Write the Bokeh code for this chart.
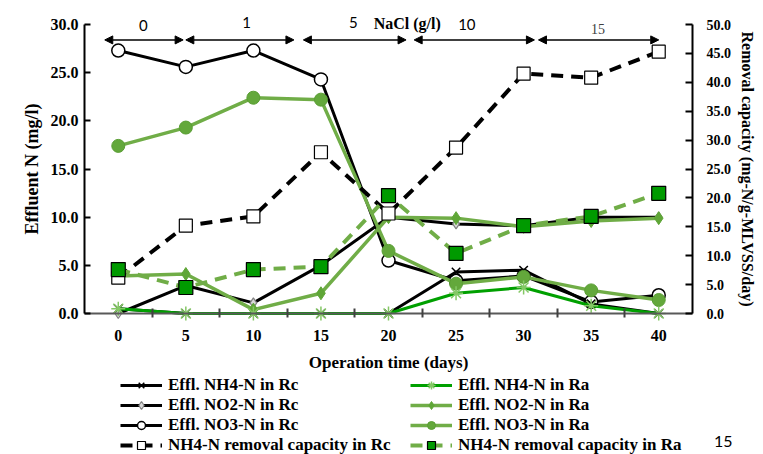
from bokeh.plotting import figure
from bokeh.models import (Range1d, LinearAxis, FixedTicker, PrintfTickFormatter,
                          Legend, LegendItem, Arrow, NormalHead, Label)
from bokeh.embed import file_html
from bokeh.resources import INLINE

# ---------------- data ----------------
days = [0, 5, 10, 15, 20, 25, 30, 35, 40]
nh4_rc = [0.5, 0.0, 0.0, 0.0, 0.0, 4.3, 4.5, 1.0, 0.0]
no2_rc = [0.0, 2.9, 1.1, 5.0, 10.0, 9.3, 9.1, 10.0, 10.0]
no3_rc = [27.3, 25.6, 27.3, 24.3, 5.5, 3.4, 3.9, 1.2, 1.9]
nh4_ra = [0.5, 0.0, 0.0, 0.0, 0.0, 2.1, 2.7, 0.8, 0.0]
no2_ra = [3.9, 4.1, 0.4, 2.1, 10.0, 9.9, 9.0, 9.6, 9.9]
no3_ra = [17.4, 19.3, 22.4, 22.2, 6.5, 3.1, 3.8, 2.4, 1.4]
cap_rc = [6.2, 15.2, 16.8, 27.9, 17.3, 28.7, 41.5, 40.8, 45.3]
cap_ra = [7.6, 4.5, 7.6, 8.1, 20.4, 10.4, 15.2, 16.8, 20.8]

left_ticks = [0, 5, 10, 15, 20, 25, 30]
right_ticks = [0, 5, 10, 15, 20, 25, 30, 35, 40, 45, 50]

nacl_levels = ["0", "1", "5", "10", "15"]
phase_start = [-1.0, 5.0, 13.7, 21.9, 31.1]
phase_end = [4.8, 13.0, 21.3, 30.8, 40.0]

# ---------------- geometry / styles ----------------
W, H = 763, 454
AX_L, AX_R, AX_T, AX_B = 84, 692, 24, 313   # plot-area box in page pixels
X_LO, X_HI = -2.5, 42.5
L_HI, R_HI = 30.0, 50.0
px_x = (AX_R - AX_L) / (X_HI - X_LO)
px_l = (AX_B - AX_T) / L_HI
px_r = (AX_B - AX_T) / R_HI

BLACK = "#000000"
G_DARK = "#00A000"
G_LIGHT = "#70AD47"
G_SQ = "#009A00"
SERIF = "Liberation Serif"

p = figure(width=W, height=H,
           x_range=Range1d(X_LO - AX_L / px_x, X_LO + (W - AX_L) / px_x),
           y_range=Range1d(-(H - AX_B) / px_l, AX_B / px_l),
           output_backend="svg", toolbar_location=None,
           min_border_left=0, min_border_right=0, min_border_top=0, min_border_bottom=0,
           x_axis_type=None, y_axis_type=None)
p.extra_y_ranges = {"cap": Range1d(-(H - AX_B) / px_r, AX_B / px_r)}
p.outline_line_color = None
p.background_fill_color = "white"
p.border_fill_color = "white"

# x axis (drawn at y = 0)
xa = LinearAxis(fixed_location=0, bounds=(X_LO, X_HI),
                ticker=FixedTicker(ticks=days, minor_ticks=[d + 2.5 for d in days[:-1]]))
xa.major_tick_in = 0
xa.major_tick_out = 0
xa.minor_tick_in = 5
xa.minor_tick_out = 4
xa.minor_tick_line_color = "#404040"
xa.minor_tick_line_width = 2
xa.axis_line_color = "#595959"
xa.axis_line_width = 2
xa.major_label_text_font = SERIF
xa.major_label_text_font_style = "bold"
xa.major_label_text_font_size = "16px"
xa.major_label_text_color = BLACK
xa.major_label_standoff = 12
xa.axis_label = "Operation time (days)"
xa.axis_label_text_font = SERIF
xa.axis_label_text_font_style = "bold"
xa.axis_label_text_font_size = "17px"
xa.axis_label_text_color = BLACK
xa.axis_label_standoff = 9
p.add_layout(xa, "below")

# left y axis
ya = LinearAxis(fixed_location=X_LO, bounds=(0, L_HI), ticker=FixedTicker(ticks=left_ticks),
                formatter=PrintfTickFormatter(format="%.1f"))
ya.major_tick_in = 6
ya.major_tick_out = 0
ya.minor_tick_in = 0
ya.minor_tick_out = 0
ya.major_tick_line_width = 2
ya.axis_line_width = 2
ya.major_label_text_font = SERIF
ya.major_label_text_font_style = "bold"
ya.major_label_text_font_size = "16px"
ya.major_label_text_color = BLACK
ya.major_label_standoff = 6
ya.axis_label = "Effluent N (mg/l)"
ya.axis_label_text_font = SERIF
ya.axis_label_text_font_style = "bold"
ya.axis_label_text_font_size = "18px"
ya.axis_label_text_color = BLACK
ya.axis_label_standoff = 6
p.add_layout(ya, "left")

# right y axis
ra = LinearAxis(y_range_name="cap", fixed_location=X_HI, bounds=(0, R_HI),
                ticker=FixedTicker(ticks=right_ticks),
                formatter=PrintfTickFormatter(format="%.1f"))
ra.major_tick_in = 7
ra.major_tick_out = 0
ra.minor_tick_in = 0
ra.minor_tick_out = 0
ra.major_tick_line_width = 2
ra.axis_line_width = 2
ra.major_label_text_font = SERIF
ra.major_label_text_font_style = "bold"
ra.major_label_text_font_size = "14px"
ra.major_label_text_color = BLACK
ra.major_label_standoff = 14
ra.axis_label = "Removal capacity (mg-N/g-MLVSS/day)"
ra.axis_label_text_font = SERIF
ra.axis_label_text_font_style = "bold"
ra.axis_label_text_font_size = "16px"
ra.axis_label_text_color = BLACK
ra.axis_label_standoff = 5
p.add_layout(ra, "right")

# ---------------- series ----------------
items_rc = {}
items_ra = {}

l = p.line(days, no3_rc, line_color=BLACK, line_width=3)
s = p.scatter(days, no3_rc, marker="circle", size=13, fill_color="white", line_color=BLACK, line_width=1.5)
items_rc["no3"] = [l, s]

l = p.line(days, no2_rc, line_color=BLACK, line_width=3)
s = p.scatter(days, no2_rc, marker="diamond", size=10, fill_color="#D9D9D9", line_color="#808080", line_width=1.2)
items_rc["no2"] = [l, s]

l = p.line(days, nh4_rc, line_color=BLACK, line_width=3)
s = p.scatter(days, nh4_rc, marker="x", size=12, line_color=BLACK, line_width=1.5)
items_rc["nh4"] = [l, s]

l = p.line(days, no3_ra, line_color=G_LIGHT, line_width=3.5)
s = p.scatter(days, no3_ra, marker="circle", size=13, fill_color="#63A83B", line_color="#5A9E34", line_width=1)
items_ra["no3"] = [l, s]

l = p.line(days, no2_ra, line_color=G_LIGHT, line_width=3.5)
s = p.scatter(days, no2_ra, marker="diamond", size=13, fill_color="#5FA637", line_color="#5FA637", line_width=1)
items_ra["no2"] = [l, s]

l = p.line(days, nh4_ra, line_color=G_DARK, line_width=3)
s = p.scatter(days, nh4_ra, marker="asterisk", size=14, line_color="#84C865", line_width=1.5)
items_ra["nh4"] = [l, s]

l = p.line(days, cap_rc, line_color=BLACK, line_width=4, line_dash="12 8", y_range_name="cap")
s = p.scatter(days, cap_rc, marker="square", size=13, fill_color="white", line_color=BLACK, line_width=1.2, y_range_name="cap")
items_rc["cap"] = [l, s]

l = p.line(days, cap_ra, line_color=G_LIGHT, line_width=4, line_dash="12 8", y_range_name="cap")
s = p.scatter(days, cap_ra, marker="square", size=14, fill_color=G_SQ, line_color=BLACK, line_width=1.2, y_range_name="cap")
items_ra["cap"] = [l, s]

# ---------------- legends ----------------
def make_legend(items, labels, loc):
    lg = Legend(items=[LegendItem(label=lab, renderers=items[k]) for k, lab in labels],
                location=loc, orientation="vertical",
                glyph_width=42, glyph_height=20, label_height=20, spacing=0,
                padding=0, margin=0, label_standoff=6,
                label_text_font=SERIF, label_text_font_style="bold",
                label_text_font_size="17px", label_text_color=BLACK,
                border_line_color=None, background_fill_alpha=0)
    p.add_layout(lg, "center")

make_legend(items_rc, [("nh4", "Effl. NH4-N in Rc"), ("no2", "Effl. NO2-N in Rc"),
                       ("no3", "Effl. NO3-N in Rc"), ("cap", "NH4-N removal capacity in Rc")],
            (120, -1))
make_legend(items_ra, [("nh4", "Effl. NH4-N in Ra"), ("no2", "Effl. NO2-N in Ra"),
                       ("no3", "Effl. NO3-N in Ra"), ("cap", "NH4-N removal capacity in Ra")],
            (410, -1))

# ---------------- NaCl phase annotations ----------------
arrow_y = 28.4
label_x = [1.85, 9.5, 17.4, 25.8, 35.5]
label_y = [29.9, 30.2, 30.2, 30.0, 29.5]
for i, lev in enumerate(nacl_levels):
    p.add_layout(Arrow(x_start=phase_start[i], y_start=arrow_y, x_end=phase_end[i], y_end=arrow_y,
                       line_width=1.5, line_color=BLACK,
                       start=NormalHead(size=8, fill_color=BLACK, line_color=BLACK),
                       end=NormalHead(size=8, fill_color=BLACK, line_color=BLACK)))
    if lev == "15":
        p.add_layout(Label(x=label_x[i], y=label_y[i], text=lev, text_align="center",
                           text_baseline="middle", text_font=SERIF, text_font_size="14px",
                           text_color="#404040"))
    else:
        p.add_layout(Label(x=label_x[i], y=label_y[i], text=lev, text_align="center",
                           text_baseline="middle", text_font="Lato", text_font_size="15px",
                           text_color=BLACK))

p.add_layout(Label(x=18.9, y=30.1, text="NaCl (g/l)", text_align="left", text_baseline="middle",
                   text_font=SERIF, text_font_style="bold", text_font_size="16px", text_color=BLACK))

# page number
p.add_layout(Label(x=44.78, y=-13.3, text="15", text_align="center", text_baseline="middle",
                   text_font="Lato", text_font_size="16px", text_color=BLACK))

open("out.html", "w").write(file_html(p, INLINE))
